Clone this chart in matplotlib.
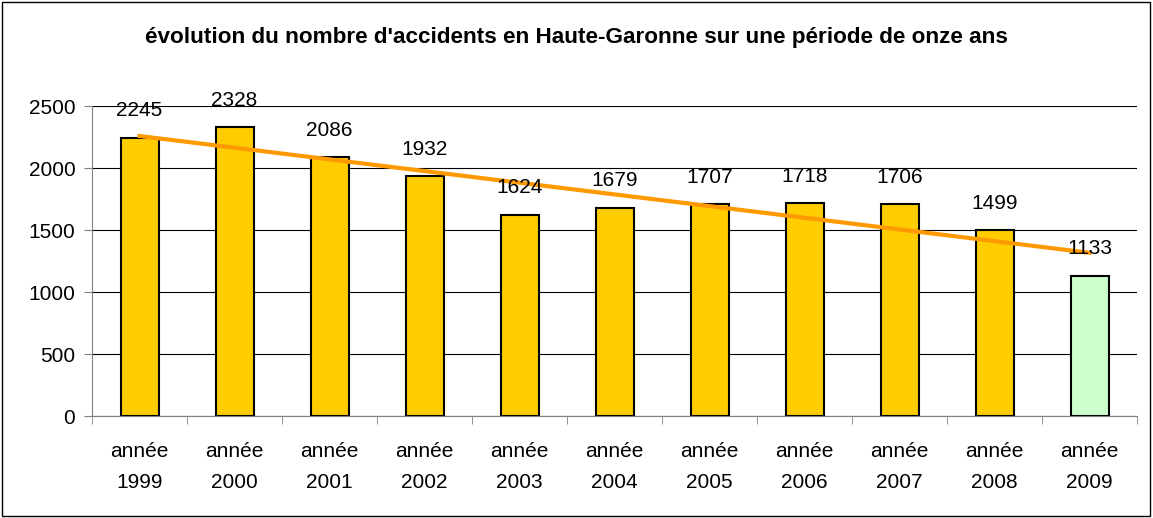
import numpy as np
import matplotlib
matplotlib.use("Agg")
import matplotlib.pyplot as plt
from matplotlib.patches import Rectangle

plt.rcParams['font.family'] = ['Liberation Sans', 'DejaVu Sans']

years = ["1999", "2000", "2001", "2002", "2003", "2004",
         "2005", "2006", "2007", "2008", "2009"]
accidents = [2245, 2328, 2086, 1932, 1624, 1679, 1707, 1718, 1706, 1499, 1133]
bar_colors = ["#FFCC00"] * 10 + ["#CCFFCC"]
labels = ["année\n" + y for y in years]

fig = plt.figure(figsize=(11.53, 5.18), dpi=100)
ax = fig.add_axes([92 / 1153, (518 - 416) / 518, (1137 - 92) / 1153, 310 / 518])

x = np.arange(len(years))
ax.bar(x, accidents, width=0.4, color=bar_colors, edgecolor="black", linewidth=1.5, zorder=3)

for xi, v in zip(x, accidents):
    ax.text(xi, v + 140, str(v), ha="center", va="bottom", fontsize=15, zorder=5)

# linear trend line (as in Excel)
coef = np.polyfit(x, accidents, 1)
ax.plot(x, np.polyval(coef, x), color="#FF9900", linewidth=3, zorder=4)

ax.set_xlim(-0.5, len(years) - 0.5)
ax.set_ylim(0, 2500)
ax.set_yticks(range(0, 2501, 500))
ax.yaxis.grid(True, color="black", linewidth=0.8, zorder=0)
ax.set_axisbelow(True)

ax.set_xticks(x)
ax.set_xticklabels(labels, fontsize=15, linespacing=1.75)
ax.set_xticks(np.arange(-0.5, len(years)), minor=True)
ax.tick_params(axis="x", which="major", length=0, pad=19)
ax.tick_params(axis="x", which="minor", length=6, color="#808080", direction="out")
ax.tick_params(axis="y", labelsize=15, length=6, color="#808080", pad=6)

for s in ["top", "right"]:
    ax.spines[s].set_visible(False)
ax.spines["left"].set_color("#808080")
ax.spines["bottom"].set_color("#808080")

fig.text(0.5, 1 - 37 / 518, "évolution du nombre d'accidents en Haute-Garonne sur une période de onze ans",
         ha="center", va="center", fontsize=16.2, fontweight="bold")

fig.patches.append(Rectangle((2 / 1153, 2 / 518), 1148 / 1153, 514 / 518, transform=fig.transFigure,
                             fill=False, edgecolor="black", linewidth=1))

fig.savefig("out.png", dpi=100)
